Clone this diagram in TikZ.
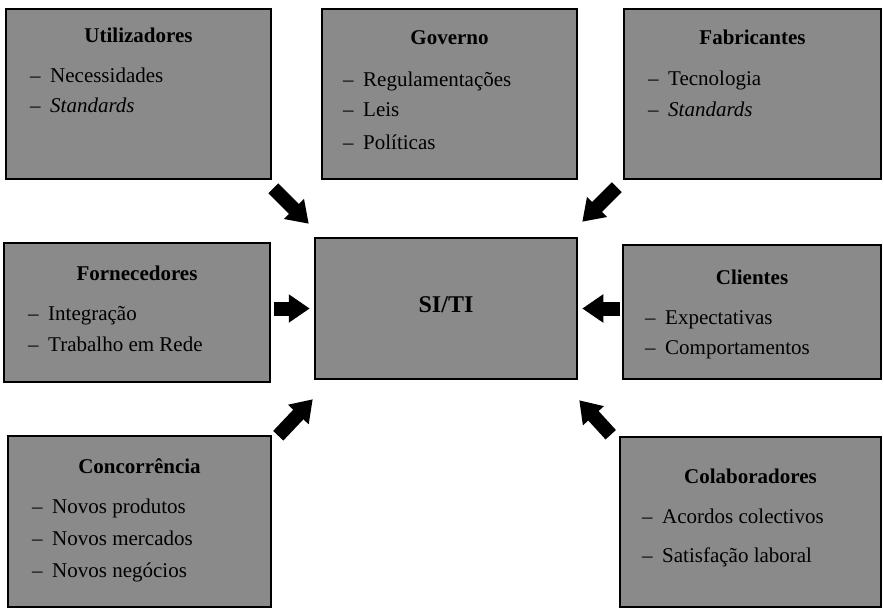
\documentclass[tikz,border=0pt]{standalone}
\usepackage{fontspec}
\setmainfont{Liberation Serif}
\usepackage{xcolor}
\definecolor{forceGray}{HTML}{8A8A8A}
\usetikzlibrary{arrows.meta}
\newcommand{\itm}[1]{\makebox[20pt][l]{--}#1}

\begin{document}
\begin{tikzpicture}[x=1pt,y=-1pt,
  forcebox/.style={rectangle,draw=black,fill=forceGray,
                   line width=2.5pt,inner sep=0pt},
  boxtitle/.style={inner sep=0pt,anchor=base,
                   font=\fontsize{21}{25}\selectfont\bfseries},
  itemtxt/.style={inner sep=0pt,anchor=base west,
                  font=\fontsize{21}{25}\selectfont},
  blockarr/.style={line width=14pt,-{Triangle[length=21pt,width=27pt]}}
]
\useasboundingbox (0,0) rectangle (884,610);

% boxes
\node[forcebox,minimum width=265,minimum height=170] (util)  at (138.5,94) {};
\node[forcebox,minimum width=255,minimum height=170] (gov)   at (449.5,94) {};
\node[forcebox,minimum width=257,minimum height=170] (fabr)  at (752.5,94) {};
\node[forcebox,minimum width=266,minimum height=139] (forn)  at (137,312.5) {};
\node[forcebox,minimum width=262,minimum height=141] (siti)  at (446,308.5) {};
\node[forcebox,minimum width=258,minimum height=134] (clie)  at (752,312) {};
\node[forcebox,minimum width=263,minimum height=171] (conc)  at (139.5,521.5) {};
\node[forcebox,minimum width=261,minimum height=170] (colab) at (750.5,522) {};

% texts
\node[boxtitle] (utilT) at (138.5,43) {Utilizadores};
\node[itemtxt] (util1) at (30,83) {\itm{Necessidades}};
\node[itemtxt] (util2) at (30,113) {\itm{\textit{Standards}}};

\node[boxtitle] (govT) at (449.5,45) {Governo};
\node[itemtxt] (gov1) at (343,86) {\itm{Regulamentações}};
\node[itemtxt] (gov2) at (343,117) {\itm{Leis}};
\node[itemtxt] (gov3) at (343,149) {\itm{Políticas}};

\node[boxtitle] (fabrT) at (752.5,45) {Fabricantes};
\node[itemtxt] (fabr1) at (648,85) {\itm{Tecnologia}};
\node[itemtxt] (fabr2) at (648,116) {\itm{\textit{Standards}}};

\node[boxtitle] (fornT) at (137,280) {Fornecedores};
\node[itemtxt] (forn1) at (28,320) {\itm{Integração}};
\node[itemtxt] (forn2) at (28,351) {\itm{Trabalho em Rede}};

\node[boxtitle,font=\fontsize{24}{28}\selectfont\bfseries] (sitiT) at (446,312) {SI/TI};

\node[boxtitle] (clieT) at (752,284) {Clientes};
\node[itemtxt] (clie1) at (645,324) {\itm{Expectativas}};
\node[itemtxt] (clie2) at (645,354) {\itm{Comportamentos}};

\node[boxtitle] (concT) at (139.5,473) {Concorrência};
\node[itemtxt] (conc1) at (32,513) {\itm{Novos produtos}};
\node[itemtxt] (conc2) at (32,545) {\itm{Novos mercados}};
\node[itemtxt] (conc3) at (32,577) {\itm{Novos negócios}};

\node[boxtitle] (colabT) at (750.5,483) {Colaboradores};
\node[itemtxt] (colab1) at (642,523) {\itm{Acordos colectivos}};
\node[itemtxt] (colab2) at (642,562) {\itm{Satisfação laboral}};

% arrows
\draw[blockarr] ([shift={(1,8)}]util.south east) -- ([shift={(-5,-13)}]siti.north west);
\draw[blockarr] ([shift={(-6,7)}]fabr.south west) -- ([shift={(4,-15)}]siti.north east);
\draw[blockarr] ([xshift=3pt]forn.east |- siti.west) -- ([xshift=-4pt]siti.west);
\draw[blockarr] ([xshift=-2pt]clie.west |- siti.east) -- ([xshift=4pt]siti.east);
\draw[blockarr] ([shift={(6,1)}]conc.north east) -- ([shift={(-1,19)}]siti.south west);
\draw[blockarr] ([shift={(-8,-1)}]colab.north west) -- ([shift={(1,20)}]siti.south east);

\end{tikzpicture}
\end{document}
